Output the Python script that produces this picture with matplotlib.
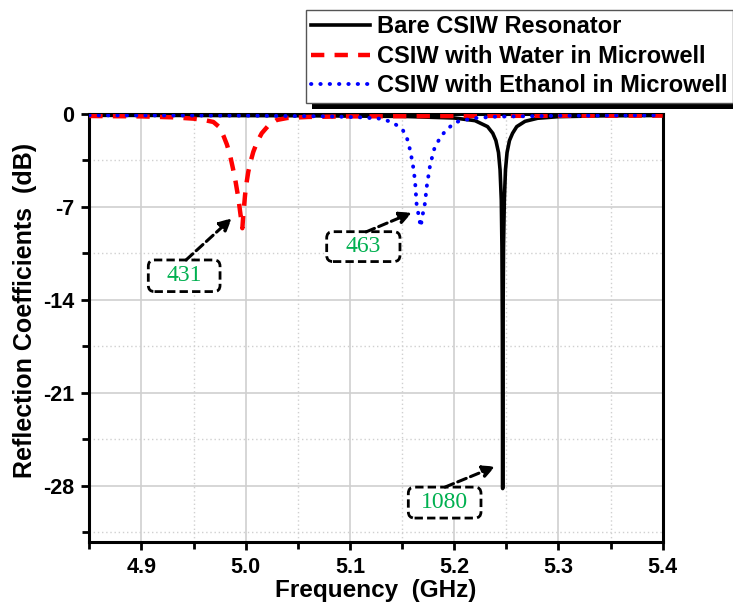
import matplotlib
matplotlib.use("Agg")
import matplotlib.pyplot as plt
from matplotlib.patches import FancyBboxPatch, Rectangle
from matplotlib.ticker import MultipleLocator, FixedLocator

plt.rcParams['font.family'] = ['Liberation Sans', 'DejaVu Sans']

# ---------------- data ----------------
bare_f = [4.85, 4.95, 5.05, 5.15, 5.20, 5.22, 5.232, 5.237, 5.240, 5.2425, 5.2440,
          5.2452, 5.2458, 5.2462, 5.2465, 5.2468, 5.2473, 5.2481, 5.2492, 5.2507,
          5.2530, 5.2560, 5.2600, 5.2680, 5.2800, 5.30, 5.34, 5.40]
bare_db = [-0.10, -0.11, -0.13, -0.18, -0.30, -0.50, -0.95, -1.45, -2.0, -2.9, -4.2,
           -6.5, -10.0, -16.0, -28.2, -16.0, -10.0, -6.5, -4.2, -2.9,
           -2.0, -1.45, -0.95, -0.55, -0.32, -0.20, -0.14, -0.11]

water_f = [4.85, 4.90, 4.93, 4.95, 4.960, 4.969, 4.975, 4.9785, 4.982, 4.985, 4.9875,
           4.9898, 4.9930, 4.9955, 4.9968, 4.9977, 4.9994, 5.0010, 5.0025, 5.0050,
           5.0073, 5.0110, 5.0154, 5.0220, 5.0298, 5.040, 5.060, 5.10, 5.20, 5.30, 5.40]
water_db = [-0.15, -0.18, -0.25, -0.35, -0.45, -0.60, -1.0, -1.6, -2.3, -3.1, -4.0,
            -4.85, -6.35, -7.85, -8.6, -7.6, -6.1, -5.1, -4.35, -3.5,
            -2.85, -2.1, -1.45, -0.85, -0.45, -0.30, -0.22, -0.18, -0.15, -0.13, -0.12]

ethanol_f = [4.85, 5.00, 5.08, 5.11, 5.129, 5.140, 5.145, 5.151, 5.155, 5.158, 5.1605,
             5.1624, 5.1640, 5.1656, 5.1666, 5.1682, 5.1688, 5.1704, 5.1720, 5.1736,
             5.1770, 5.1810, 5.1870, 5.1940, 5.2020, 5.2180, 5.240, 5.30, 5.40]
ethanol_db = [-0.10, -0.12, -0.18, -0.25, -0.35, -0.60, -0.85, -1.25, -1.9, -2.8, -3.9,
              -5.0, -6.85, -7.5, -8.0, -8.5, -7.9, -7.35, -6.7, -5.5,
              -3.8, -2.6, -1.7, -1.08, -0.60, -0.32, -0.20, -0.13, -0.10]

x_ticks = [4.9, 5.0, 5.1, 5.2, 5.3, 5.4]
x_tick_labels = ['4.9', '5.0', '5.1', '5.2', '5.3', '5.4']
y_ticks = [0, -7, -14, -21, -28]
y_tick_labels = ['0', '-7', '-14', '-21', '-28']

legend_labels = ['Bare CSIW Resonator', 'CSIW with Water in Microwell',
                 'CSIW with Ethanol in Microwell']

q_labels = ['431', '463', '1080']
q_text_pos = [(4.9410, -12.19), (5.1128, -9.98), (5.1909, -29.27)]
q_box = [(4.9066, -13.37, 0.0688, 2.38), (5.0777, -11.11, 0.0703, 2.25),
         (5.1560, -30.42, 0.0697, 2.33)]
q_arrow_from = [(4.9428, -10.99), (5.1154, -8.88), (5.1912, -28.09)]
q_arrow_to = [(4.9866, -7.85), (5.1593, -7.43), (5.2392, -26.54)]

# ---------------- figure ----------------
W, H = 733, 609
fig = plt.figure(figsize=(W / 100, H / 100), dpi=100)
ax = fig.add_axes([89.3 / W, 1 - 541.7 / H, (662.7 - 89.3) / W, (541.7 - 114) / H])

l1, = ax.plot(bare_f, bare_db, color='black', lw=2.6, solid_joinstyle='round', zorder=4)
l2, = ax.plot(water_f, water_db, color='#ff0000', lw=3.2, linestyle=(0, (3.0, 2.3)), zorder=4)
l3, = ax.plot(ethanol_f, ethanol_db, color='#0000ff', lw=2.8, linestyle=(0, (0.1, 2.3)),
              dash_capstyle='round', zorder=4)

ax.set_xlim(4.85, 5.4)
ax.set_ylim(-32.2, 0)

ax.xaxis.set_major_locator(FixedLocator(x_ticks))
ax.set_xticklabels(x_tick_labels)
ax.xaxis.set_minor_locator(MultipleLocator(0.05))
ax.yaxis.set_major_locator(FixedLocator(y_ticks))
ax.set_yticklabels(y_tick_labels)
ax.yaxis.set_minor_locator(MultipleLocator(3.5))

ax.grid(which='major', color='#cfcfcf', lw=1.2, linestyle='-')
ax.grid(which='minor', color='#d0d0d0', lw=1.0, linestyle=(0, (1, 2)))
ax.set_axisbelow(True)

for s in ax.spines.values():
    s.set_linewidth(2.2)
ax.tick_params(which='major', direction='out', length=6, width=2.0, pad=5,
               labelsize=15.5, top=False, right=False)
ax.tick_params(which='minor', direction='out', length=5, width=2.0, top=False, right=False)
for lab in ax.get_xticklabels() + ax.get_yticklabels():
    lab.set_fontweight('bold')

fig.text(376 / W, 1 - 591 / H, 'Frequency  (GHz)', ha='center', va='center',
         fontsize=17.5, fontweight='bold')
fig.text(25 / W, 1 - 310 / H, 'Reflection Coefficients  (dB)', ha='center', va='center',
         rotation=90, fontsize=18, fontweight='bold')

# annotation boxes
aspect = 1042.5 / 13.29
for lab, tp, bx, af, at in zip(q_labels, q_text_pos, q_box, q_arrow_from, q_arrow_to):
    p = FancyBboxPatch((bx[0], bx[1]), bx[2], bx[3],
                       boxstyle='round,pad=0,rounding_size=0.006',
                       mutation_aspect=aspect, facecolor='white', edgecolor='black',
                       lw=2.0, linestyle=(0, (3, 1.5)), zorder=5)
    ax.add_patch(p)
    ax.text(tp[0], tp[1], lab, ha='center', va='center', fontsize=17,
            family=['Liberation Serif', 'DejaVu Serif'], color='#00b050', zorder=6)
    ax.annotate('', xy=at, xytext=af,
                arrowprops=dict(arrowstyle='-|>', color='black', lw=2.2,
                                linestyle=(0, (3, 1.5)), mutation_scale=18,
                                shrinkA=0, shrinkB=0), zorder=6)

leg = fig.legend([l1, l2, l3], legend_labels, loc='upper left',
                 bbox_to_anchor=(306 / W, 1 - 10 / H), bbox_transform=fig.transFigure,
                 prop={'weight': 'bold', 'size': 17}, frameon=True, fancybox=False,
                 framealpha=1, facecolor='white',
                 edgecolor='#555555', handlelength=2.5, handletextpad=0.3,
                 labelspacing=0.28, borderpad=0.22, borderaxespad=0)
leg.get_frame().set_linewidth(1.0)
leg.set_zorder(10)

fig.canvas.draw()
bb = leg.get_frame().get_window_extent(fig.canvas.get_renderer())
sh = Rectangle((bb.x0 + 6, bb.y0 - 6), bb.width + 30, bb.height,
               transform=None, facecolor='black', edgecolor='none', zorder=9.9)
fig.add_artist(sh)

fig.savefig('out.png', dpi=100)
